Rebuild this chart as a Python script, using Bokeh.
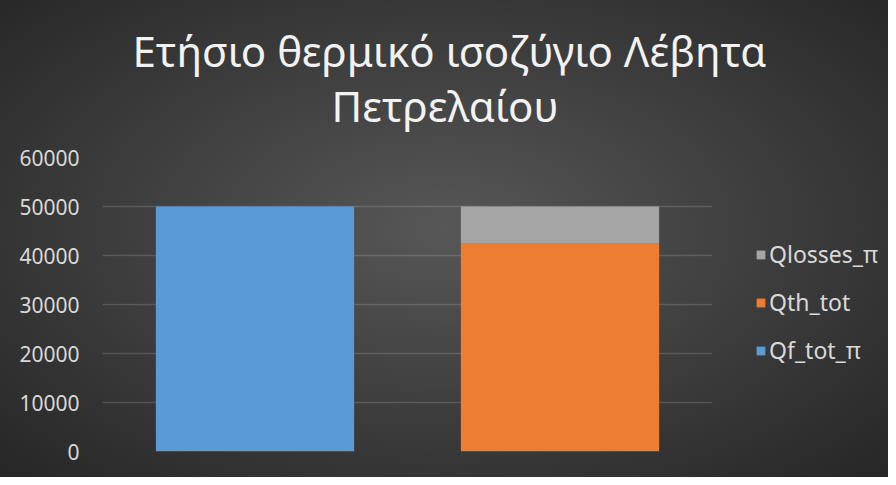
from bokeh.plotting import figure
from bokeh.layouts import row, column
from bokeh.models import (ColumnDataSource, FactorRange, Range1d, Legend, LegendItem,
                          Title, FixedTicker, NumeralTickFormatter)
from bokeh.embed import file_html
from bokeh.resources import INLINE

# ---- data ----
title_line1 = "Ετήσιο θερμικό ισοζύγιο Λέβητα"
title_line2 = "Πετρελαίου"
categories = ["1", "2"]
series_names = ["Qf_tot_π", "Qth_tot", "Qlosses_π"]
qf_tot_pi = [50000, 0]
qth_tot = [0, 42400]
qlosses_pi = [0, 7600]
series_colors = ["#5b9bd5", "#ed7d31", "#a5a5a5"]
y_ticks = [0, 10000, 20000, 30000, 40000, 50000, 60000]

source = ColumnDataSource(data={
    "cat": categories,
    "Qf_tot_π": qf_tot_pi,
    "Qth_tot": qth_tot,
    "Qlosses_π": qlosses_pi,
})

FONT = "Noto Sans"
TXT = "#d9d9d9"
TITLE_COLOR = "#f2f2f2"


def clear(fig):
    fig.background_fill_color = None
    fig.border_fill_color = None
    fig.outline_line_color = None


# ---- title strip ----
pt = figure(width=888, height=140, x_range=Range1d(0, 1), y_range=Range1d(0, 1),
            output_backend="svg", toolbar_location=None,
            min_border_left=102, min_border_right=176,
            min_border_top=133, min_border_bottom=0)
clear(pt)
pt.axis.visible = False
pt.grid.visible = False
pt.title.text = title_line1
pt.title.align = "left"
pt.title.offset = 30
pt.title.text_font = FONT
pt.title.text_font_size = "42px"
pt.title.text_font_style = "normal"
pt.title.text_color = TITLE_COLOR
pt.title.standoff = -9
t2 = Title(text=title_line2, align="left", offset=229, text_font=FONT,
           text_font_size="42px", text_font_style="normal", text_color=TITLE_COLOR,
           standoff=0)
pt.add_layout(t2, "above")

# ---- main chart ----
p = figure(width=712, height=337,
           x_range=FactorRange(factors=categories, range_padding=0),
           y_range=Range1d(0, 60000),
           output_backend="svg", toolbar_location=None,
           min_border_left=102, min_border_right=0,
           min_border_top=17, min_border_bottom=26)
clear(p)
renderers = p.vbar_stack(series_names, x="cat", width=0.65, source=source,
                         color=series_colors, line_color=None)

p.xaxis.visible = False
p.xgrid.visible = False
p.yaxis.ticker = FixedTicker(ticks=y_ticks)
p.yaxis.formatter = NumeralTickFormatter(format="0")
p.yaxis.axis_line_color = None
p.yaxis.major_tick_line_color = None
p.yaxis.minor_tick_line_color = None
p.yaxis.major_label_standoff = 17
p.yaxis.major_label_text_font = FONT
p.yaxis.major_label_text_font_size = "21px"
p.yaxis.major_label_text_color = TXT
p.ygrid.grid_line_color = "#ffffff"
p.ygrid.grid_line_alpha = 0.15
p.ygrid.grid_line_width = 1.5

# ---- legend strip: hidden copies of the series serve only as legend keys ----
pl = figure(width=176, height=337,
            x_range=FactorRange(factors=categories, range_padding=0),
            y_range=Range1d(0, 60000),
            output_backend="svg", toolbar_location=None,
            min_border_left=0, min_border_right=0,
            min_border_top=17, min_border_bottom=26)
clear(pl)
pl.axis.visible = False
pl.grid.visible = False
leg_renderers = pl.vbar_stack(series_names, x="cat", width=0.65, source=source,
                              color=series_colors, line_color=None)
for r in leg_renderers:
    r.visible = False
items = [LegendItem(label=series_names[i], renderers=[leg_renderers[i]]) for i in (2, 1, 0)]
legend = Legend(items=items, location=(43, 85), margin=0, padding=0,
                border_line_color=None, background_fill_color=None,
                inactive_fill_alpha=0,
                label_text_font=FONT, label_text_font_size="23px",
                label_text_color=TXT, glyph_width=11, glyph_height=11,
                label_standoff=3, spacing=16)
pl.add_layout(legend, "center")

layout = column(pt, row(p, pl, spacing=0), spacing=0)
layout.styles = {"background": "radial-gradient(ellipse farthest-corner at 50% 48%, #575757 0%, #3c3c3c 55%, #262626 100%)"}

open("out.html", "w").write(file_html(layout, INLINE))
